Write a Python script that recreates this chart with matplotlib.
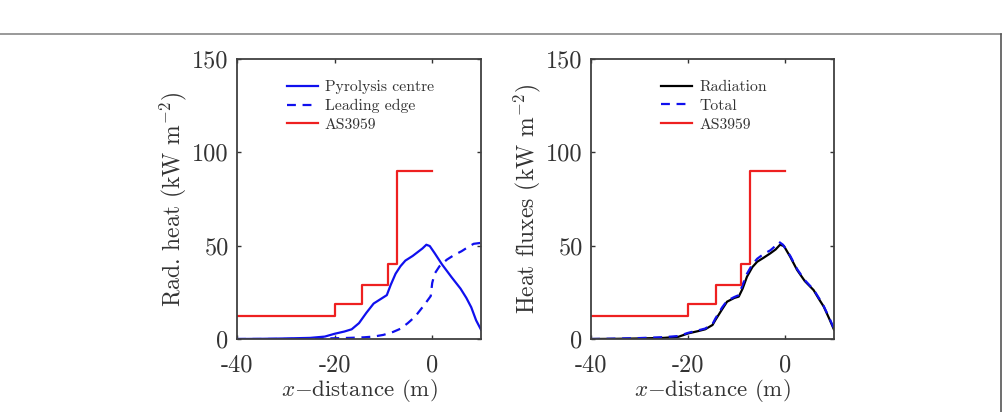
import matplotlib
matplotlib.use("Agg")
import matplotlib.pyplot as plt
from matplotlib.lines import Line2D

plt.rcParams['font.family'] = ['cmr10', 'DejaVu Serif']
plt.rcParams['mathtext.fontset'] = 'cm'
plt.rcParams['axes.formatter.use_mathtext'] = True

# AS3959 step profile
as_x = [-40, -20, -14.3, -9.1, -7.3, 0]
as_y = [12.5, 19, 29, 40, 90, 90]

# Left panel: pyrolysis centre
pc_x = [-40, -35, -30, -25, -22, -20, -18, -16.5, -15, -13.5, -12, -10.5, -9.3, -8.5,
        -7.5, -6.5, -5.5, -4, -3, -2, -1.2, -0.5, 0.5, 2, 4, 5.8, 7, 8, 9, 10]
pc_y = [0, 0.1, 0.3, 0.6, 1.3, 2.8, 4.0, 5.2, 8.5, 14, 19, 21.5, 23.5, 29,
        35, 39, 42, 44.5, 46.5, 48.5, 50.5, 49.8, 46, 40, 33, 27, 22, 17, 10, 5]

# Left panel: leading edge
le_x = [-40, -30, -25, -20, -17, -14, -12, -10, -8, -6.5, -5, -3.5, -2, -1, -0.3,
        0, 0.5, 1.5, 3, 4.5, 6, 7.5, 8.5, 10]
le_y = [0, 0, 0.2, 0.4, 0.6, 0.9, 1.3, 2.2, 3.8, 5.5, 8.5, 12, 17, 20.5, 23,
        30, 35, 39, 42.5, 45, 47, 49.5, 51, 51.5]

# Right panel: radiation
rad_x = [-40, -35, -30, -25, -22, -20, -18, -16.5, -15, -14.4, -13, -12, -10.5, -9.6, -8.8,
         -7.9, -6.8, -5.8, -4.5, -3.1, -2, -1.1, -0.3, 1, 2.4, 4, 5.8, 7, 7.9, 9, 10]
rad_y = [0, 0.1, 0.3, 0.6, 1.2, 3.0, 4.2, 5.2, 7.5, 10.2, 16, 20, 22, 22.7, 27,
         33.4, 38.5, 41.4, 43.5, 45.9, 48, 50.5, 49.8, 44, 37, 31, 26.2, 21, 17.3, 11, 5]

# Right panel: total
tot_x = [-40, -35, -30, -25, -22, -20, -18, -16.5, -15, -14.4, -13, -12, -10.5, -9.6, -8.8,
         -7.9, -6.8, -5.8, -4.5, -3.1, -2, -1.3, -0.5, 1, 2.4, 4, 5.8, 7, 7.9, 9, 10]
tot_y = [0, 0.2, 0.5, 1.0, 1.6, 3.3, 4.6, 5.6, 8, 11, 17, 20.5, 22.5, 23.5, 29,
         35, 40, 43, 45.5, 47.5, 50, 52, 50.5, 44.5, 37.5, 31.5, 26.5, 21.5, 17.5, 11.5, 5.5]

xticks = [-40, -20, 0]
xticklabels = ['-40', '-20', '0']
yticks = [0, 50, 100, 150]
yticklabels = ['0', '50', '100', '150']

W, H = 1003, 412
fig = plt.figure(figsize=(W / 100, H / 100), dpi=100)

ax1 = fig.add_axes([237 / W, 1 - 339 / H, 244 / W, 280 / H])
ax2 = fig.add_axes([591 / W, 1 - 339 / H, 243 / W, 280 / H])

BLUE = '#1010ee'
RED = '#ee2020'
TXT = '#333333'
lw = 1.6

def step_line(ax):
    xs, ys = [], []
    for i in range(len(as_x) - 1):
        xs += [as_x[i], as_x[i + 1]]
        ys += [as_y[i], as_y[i]]
    ax.plot(xs, ys, color=RED, lw=lw, label='AS3959')

ax1.plot(pc_x, pc_y, color=BLUE, lw=lw, label='Pyrolysis centre')
ax1.plot(le_x, le_y, color=BLUE, lw=lw, ls=(0, (4, 3)), label='Leading edge')
step_line(ax1)

ax2.plot(rad_x, rad_y, color='black', lw=lw, label='Radiation')
ax2.plot(tot_x, tot_y, color=BLUE, lw=lw, ls=(0, (4, 3)), label='Total')
step_line(ax2)

for ax, ylab, legx in [(ax1, r'Rad. heat (kW m$^{-2}$)', 0.205),
                       (ax2, r'Heat fluxes (kW m$^{-2}$)', 0.29)]:
    ax.set_xlim(-40, 10)
    ax.set_ylim(0, 150)
    ax.set_xticks(xticks)
    ax.set_xticklabels(xticklabels)
    ax.set_yticks(yticks)
    ax.set_yticklabels(yticklabels)
    ax.tick_params(direction='in', top=True, right=True, length=3, width=1.0,
                   labelsize=17.5, colors=TXT, labelcolor=TXT)
    ax.tick_params(axis='y', pad=6)
    ax.tick_params(axis='x', pad=11)
    for s in ax.spines.values():
        s.set_color('#404040')
        s.set_linewidth(1.3)
    ax.set_xlabel(r'$x{-}$distance (m)', fontsize=16.5, color=TXT, labelpad=0.5)
    ax.set_ylabel(ylab, fontsize=17, color=TXT, labelpad=2.5)
    leg = ax.legend(loc='upper left', bbox_to_anchor=(legx, 0.924), frameon=False,
                    borderpad=0, borderaxespad=0,
                    fontsize=11.3, handlelength=1.95, handletextpad=0.45, labelspacing=0.3)
    for t in leg.get_texts():
        t.set_color(TXT)

# figure border lines
fig.add_artist(Line2D([0, 1001 / W], [1 - 34 / H, 1 - 34 / H], transform=fig.transFigure,
                      color='#888888', lw=1.2))
fig.add_artist(Line2D([1001 / W, 1001 / W], [1 - 34 / H, 0], transform=fig.transFigure,
                      color='#555555', lw=1.2))

fig.savefig('out.png', dpi=100)
